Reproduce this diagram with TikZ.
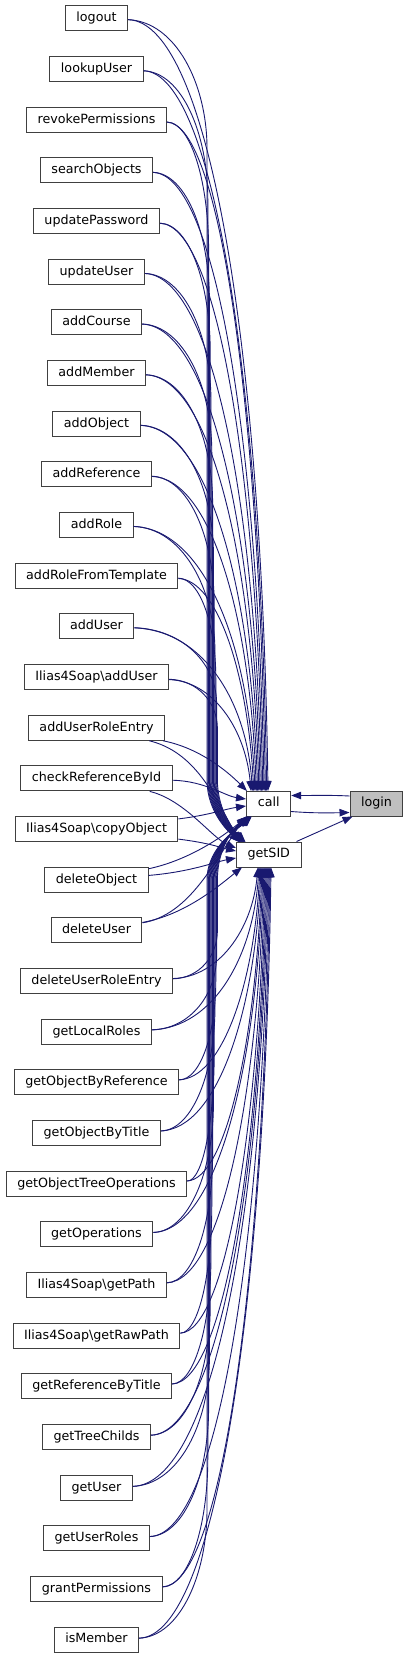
\documentclass[tikz,border=0pt]{standalone}
\usepackage{fontspec}
\setmainfont{DejaVu Sans}
\usetikzlibrary{arrows.meta,calc}
\definecolor{edgeblue}{HTML}{191970}
\definecolor{nodeborder}{HTML}{404040}
\definecolor{rootfill}{HTML}{BFBFBF}
% upper rows -> call (enter from top)
\newcommand\ucall[2]{%
  \pgfmathsetmacro\xc{268-1.3*#1}%
  \pgfmathsetmacro\ry{#2}%
  \draw[edge] let \p1=(n#1.east) in (n#1) .. controls ({\x1+0.7*(\xc-20-\x1)}, {-\ry-4}) and ({\xc-6}, {-\ry-0.45*(791-\ry)}) .. (\xc,-791);}
% upper rows -> getSID (bundle left of call, enter top-left)
\newcommand\usid[2]{%
  \pgfmathsetmacro\xb{207+0.8*#1}%
  \pgfmathsetmacro\ry{#2}%
  \pgfmathsetmacro\hh{min(130,0.5*(780-\ry))}%
  \pgfmathsetmacro\xt{239+0.5*#1}%
  \draw[edge] let \p1=(n#1.east) in (n#1) .. controls ({\x1+0.6*(\xb-\x1)}, {-\ry-3}) and (\xb, {-\ry-0.5*\hh}) .. (\xb, {-\ry-\hh}) -- (\xb,-780) .. controls (\xb,-812) and ({\xt-10},-832) .. (\xt,-842);}
% lower rows -> getSID (enter from bottom)
\newcommand\lsid[2]{%
  \pgfmathsetmacro\xg{258+1.0*(#1-19)}%
  \pgfmathsetmacro\ry{#2}%
  \draw[edge] let \p1=(n#1.east) in (n#1) .. controls ({\x1+0.7*(\xg-20-\x1)}, {-\ry+4}) and ({\xg-6}, {-\ry+0.45*(\ry-867.3)}) .. (\xg,-867.3);}
% lower rows -> call (bundle left of getSID, enter bottom-left)
\newcommand\lcall[2]{%
  \pgfmathsetmacro\xb{207+0.8*(32-#1)}%
  \pgfmathsetmacro\ry{#2}%
  \pgfmathsetmacro\hh{min(130,0.5*(\ry-880))}%
  \pgfmathsetmacro\xt{246.5+0.4*(#1-19)}%
  \draw[edge] let \p1=(n#1.east) in (n#1) .. controls ({\x1+0.6*(\xb-\x1)}, {-\ry+3}) and (\xb, {-\ry+0.5*\hh}) .. (\xb, {-\ry+\hh}) -- (\xb,-880) .. controls (\xb,-845) and ({\xt-10},-826) .. (\xt,-816.5);}
\begin{document}
\begin{tikzpicture}[x=1pt,y=1pt,
  box/.style={draw=nodeborder, line width=1pt, fill=white, minimum height=25pt,
    inner xsep=11pt, inner ysep=0pt, text height=9.3pt, text depth=2.6pt,
    font=\fontsize{12.7}{15}\selectfont},
  edge/.style={draw=edgeblue, line width=0.9pt, -{Triangle[length=10pt,width=7.5pt]}}]
\useasboundingbox (0,0) rectangle (409,-1659);
% caller nodes
\node[box] (n0)  at (96.5,-18.5)   {logout};
\node[box] (n1)  at (96.5,-69.16)  {lookupUser};
\node[box] (n2)  at (96.5,-119.82) {revokePermissions};
\node[box] (n3)  at (96.5,-170.48) {searchObjects};
\node[box] (n4)  at (96.5,-221.14) {updatePassword};
\node[box] (n5)  at (96.5,-271.8)  {updateUser};
\node[box] (n6)  at (96.5,-322.46) {addCourse};
\node[box] (n7)  at (96.5,-373.12) {addMember};
\node[box] (n8)  at (96.5,-423.78) {addObject};
\node[box] (n9)  at (96.5,-474.44) {addReference};
\node[box] (n10) at (96.5,-525.1)  {addRole};
\node[box] (n11) at (96.5,-575.76) {addRoleFromTemplate};
\node[box] (n12) at (96.5,-626.42) {addUser};
\node[box] (n13) at (96.5,-677.08) {Ilias4Soap\textbackslash addUser};
\node[box] (n14) at (96.5,-727.74) {addUserRoleEntry};
\node[box] (n15) at (96.5,-778.4)  {checkReferenceById};
\node[box] (n16) at (96.5,-829.06) {Ilias4Soap\textbackslash copyObject};
\node[box] (n17) at (96.5,-879.72) {deleteObject};
\node[box] (n18) at (96.5,-930.38) {deleteUser};
\node[box] (n19) at (96.5,-981.04) {deleteUserRoleEntry};
\node[box] (n20) at (96.5,-1031.7) {getLocalRoles};
\node[box] (n21) at (96.5,-1082.36) {getObjectByReference};
\node[box] (n22) at (96.5,-1133.02) {getObjectByTitle};
\node[box] (n23) at (96.5,-1183.68) {getObjectTreeOperations};
\node[box] (n24) at (96.5,-1234.34) {getOperations};
\node[box] (n25) at (96.5,-1285.0)  {Ilias4Soap\textbackslash getPath};
\node[box] (n26) at (96.5,-1335.66) {Ilias4Soap\textbackslash getRawPath};
\node[box] (n27) at (96.5,-1386.32) {getReferenceByTitle};
\node[box] (n28) at (96.5,-1436.98) {getTreeChilds};
\node[box] (n29) at (96.5,-1487.64) {getUser};
\node[box] (n30) at (96.5,-1538.3)  {getUserRoles};
\node[box] (n31) at (96.5,-1588.96) {grantPermissions};
\node[box] (n32) at (96.5,-1639.62) {isMember};
% central nodes
\node[box] (call)  at (268.8,-803.5) {call};
\node[box] (getSID) at (268.8,-854.5) {getSID};
\node[box, fill=rootfill] (login) at (376.5,-803.5) {login};
% upper group edges
\foreach \ii/\yy in {0/18.5,1/69.16,2/119.82,3/170.48,4/221.14,5/271.8,6/322.46,7/373.12,8/423.78,9/474.44,10/525.1,11/575.76,12/626.42,13/677.08}{
  \ucall{\ii}{\yy}
  \usid{\ii}{\yy}
}
% lower group edges
\foreach \ii/\yy in {19/981.04,20/1031.7,21/1082.36,22/1133.02,23/1183.68,24/1234.34,25/1285.0,26/1335.66,27/1386.32,28/1436.98,29/1487.64,30/1538.3,31/1588.96,32/1639.62}{
  \lsid{\ii}{\yy}
  \lcall{\ii}{\yy}
}
% middle rows
\draw[edge] (n14) .. controls (200,-748) and (228,-772) .. (247,-791);
\draw[edge] (n14) .. controls (195,-752) and (214,-795) .. (240,-842);
\draw[edge] (n15) .. controls (205,-781) and (225,-796) .. (246,-799);
\draw[edge] (n15) .. controls (185,-800) and (212,-838) .. (236,-848);
\draw[edge] (n16) .. controls (210,-815) and (225,-809) .. (246,-806);
\draw[edge] (n16) .. controls (210,-843) and (222,-848) .. (236,-851);
\draw[edge] (n17) .. controls (190,-860) and (225,-835) .. (247,-816.5);
\draw[edge] (n17) .. controls (190,-872) and (215,-862) .. (236,-858);
\draw[edge] (n18) .. controls (190,-915) and (215,-860) .. (246,-816.5);
\draw[edge] (n18) .. controls (185,-915) and (220,-885) .. (242,-867.3);
% login edges
\draw[edge] ([yshift=7.5pt]login.west) .. controls (330,-795) and (315,-795.5) .. ([yshift=8pt]call.east);
\draw[edge] ([yshift=-8pt]call.east) .. controls (310,-813) and (325,-813) .. ([yshift=-9pt]login.west);
\draw[edge] ([xshift=-5pt]getSID.north east) -- ([xshift=3pt]login.south west);
\end{tikzpicture}
\end{document}
